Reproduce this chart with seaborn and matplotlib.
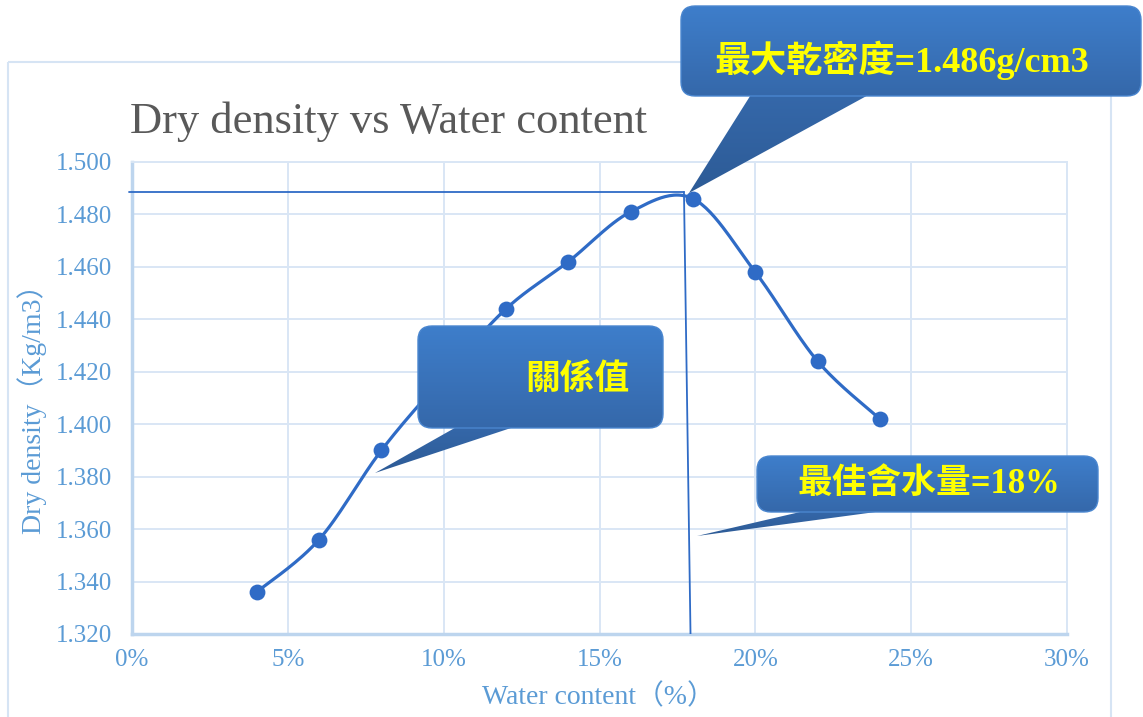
import numpy as np
import pandas as pd
import matplotlib
matplotlib.use("Agg")
import matplotlib.pyplot as plt
import seaborn as sns
from matplotlib.patches import FancyBboxPatch, Polygon, Rectangle
from matplotlib.colors import LinearSegmentedColormap

# data
water = [0.04, 0.06, 0.08, 0.10, 0.12, 0.14, 0.16, 0.18, 0.20, 0.22, 0.24]
density = [1.336, 1.356, 1.390, 1.418, 1.444, 1.462, 1.481, 1.486, 1.458, 1.424, 1.402]

x_ticks = [0.00, 0.05, 0.10, 0.15, 0.20, 0.25, 0.30]
x_tick_labels = ["0%", "5%", "10%", "15%", "20%", "25%", "30%"]
y_ticks = [1.32, 1.34, 1.36, 1.38, 1.40, 1.42, 1.44, 1.46, 1.48, 1.50]
y_tick_labels = ["1.320", "1.340", "1.360", "1.380", "1.400", "1.420",
                 "1.440", "1.460", "1.480", "1.500"]

# hand-drawn guide lines (max density / optimum water content)
guide_density = 1.4886
guide_water_top = 0.1771
guide_water_bottom = 0.1792

title = "Dry density vs Water content"
x_label = "Water content（%）"
y_label = "Dry density（Kg/m3）"
note_max = "最大乾密度=1.486g/cm3"
note_rel = "關係值"
note_opt = "最佳含水量=18%"

LINE = "#2f6bc6"
TICK = "#5b9bd5"
GRID = "#d9e6f5"

sns.set_theme(style="white")
plt.rcParams["font.family"] = ["Liberation Serif", "Noto Sans CJK TC", "DejaVu Sans"]


def smooth(xs, ys, n=30):
    # catmull-rom, close to excel's smoothed line
    p = np.column_stack([xs, ys])
    p = np.vstack([p[0], p, p[-1]])
    t = np.linspace(0, 1, n)[:, None]
    out = []
    for i in range(1, len(p) - 2):
        p0, p1, p2, p3 = p[i - 1], p[i], p[i + 1], p[i + 2]
        seg = 0.5 * (2 * p1 + (-p0 + p2) * t
                     + (2 * p0 - 5 * p1 + 4 * p2 - p3) * t ** 2
                     + (-p0 + 3 * p1 - 3 * p2 + p3) * t ** 3)
        out.append(seg if i == 1 else seg[1:])
    return np.vstack(out)


df = pd.DataFrame({"water": water, "density": density})
curve = smooth(df["water"].values, df["density"].values)
curve_df = pd.DataFrame({"water": curve[:, 0], "density": curve[:, 1]})

W, H = 1143, 717
fig = plt.figure(figsize=(W / 100, H / 100), dpi=100)
ax = fig.add_axes([132 / W, 1 - 634 / H, 935 / W, 472 / H])

sns.lineplot(data=curve_df, x="water", y="density", sort=False, color=LINE,
             linewidth=2.3, ax=ax, zorder=3)
sns.scatterplot(data=df, x="water", y="density", color=LINE, s=130,
                edgecolor=LINE, linewidth=0, ax=ax, zorder=4)

ax.plot([-0.001, guide_water_top], [guide_density, guide_density],
        color=LINE, lw=1.3, clip_on=False, zorder=5)
ax.plot([guide_water_top, guide_water_bottom], [guide_density, 1.32],
        color=LINE, lw=1.3, zorder=5)

ax.set_xlim(0, 0.30)
ax.set_ylim(1.32, 1.50)
ax.set_xticks(x_ticks)
ax.set_xticklabels(x_tick_labels)
ax.set_yticks(y_ticks)
ax.set_yticklabels(y_tick_labels)
ax.tick_params(axis="both", length=0, colors=TICK, labelsize=18)
ax.tick_params(axis="y", pad=14)
ax.tick_params(axis="x", pad=11)
ax.grid(True, color=GRID, lw=1.4)
for side in ["top", "right"]:
    ax.spines[side].set_color(GRID)
    ax.spines[side].set_linewidth(1.4)
for side in ["left", "bottom"]:
    ax.spines[side].set_color("#bdd5ee")
    ax.spines[side].set_linewidth(2.5)

ax.set_xlabel(x_label, color=TICK, fontsize=20)
ax.set_ylabel(y_label, color=TICK, fontsize=20)
ax.xaxis.set_label_coords((598 - 132) / 935, (634 - 697) / 472)
ax.yaxis.set_label_coords((32 - 132) / 935, 0.49)
ax.xaxis.label.set_va("center")
ax.yaxis.label.set_va("center")

# overlay in pixel coordinates for the title, frame and callouts
ov = fig.add_axes([0, 0, 1, 1])
ov.set_axis_off()
ov.set_autoscale_on(False)
ov.set_xlim(0, W)
ov.set_ylim(H, 0)

ov.add_patch(Rectangle((8, 62), 1103, 700, fill=False, edgecolor="#d6e4f4", lw=1.5))
ov.text(130, 122, title, fontsize=32, color="#595959", ha="left", va="center")

box_cmap = LinearSegmentedColormap.from_list("box", ["#3e7ecb", "#3568aa"])
tail_cmap = LinearSegmentedColormap.from_list("tail", ["#3568aa", "#2d5b96"])
grad = np.linspace(0, 1, 256).reshape(-1, 1)


def callout(box, base, tip, text, text_xy, size):
    x0, y0, x1, y1 = box
    patch = FancyBboxPatch((x0, y0), x1 - x0, y1 - y0,
                           boxstyle="round,pad=0,rounding_size=14",
                           facecolor="none", edgecolor="#4a86cf", lw=1, zorder=20)
    ov.add_patch(patch)
    im = ov.imshow(grad, cmap=box_cmap, extent=[x0, x1, y1, y0],
                   aspect="auto", zorder=19)
    im.set_clip_path(patch)
    tail = Polygon([(base[0], y1 - 3), (base[1], y1 - 3), tip], closed=True,
                   facecolor="none", edgecolor="none", zorder=18)
    ov.add_patch(tail)
    tx = [base[0], base[1], tip[0]]
    ty = [y1 - 3, tip[1]]
    im2 = ov.imshow(grad, cmap=tail_cmap,
                    extent=[min(tx) - 2, max(tx) + 2, max(ty), min(ty)],
                    aspect="auto", zorder=18)
    im2.set_clip_path(tail)
    ov.text(text_xy[0], text_xy[1], text, fontsize=size, color="#ffff00",
            fontweight="bold", ha="center", va="center", zorder=21)


callout((681, 6, 1141, 96), (752, 872), (689, 193), note_max, (902, 60), 26)
callout((418, 326, 663, 428), (460, 520), (375, 473), note_rel, (577, 381), 25)
callout((757, 456, 1098, 512), (813, 898), (697, 536), note_opt, (929, 484), 25)

ov.set_xlim(0, W)
ov.set_ylim(H, 0)

fig.savefig("out.png", dpi=100)
